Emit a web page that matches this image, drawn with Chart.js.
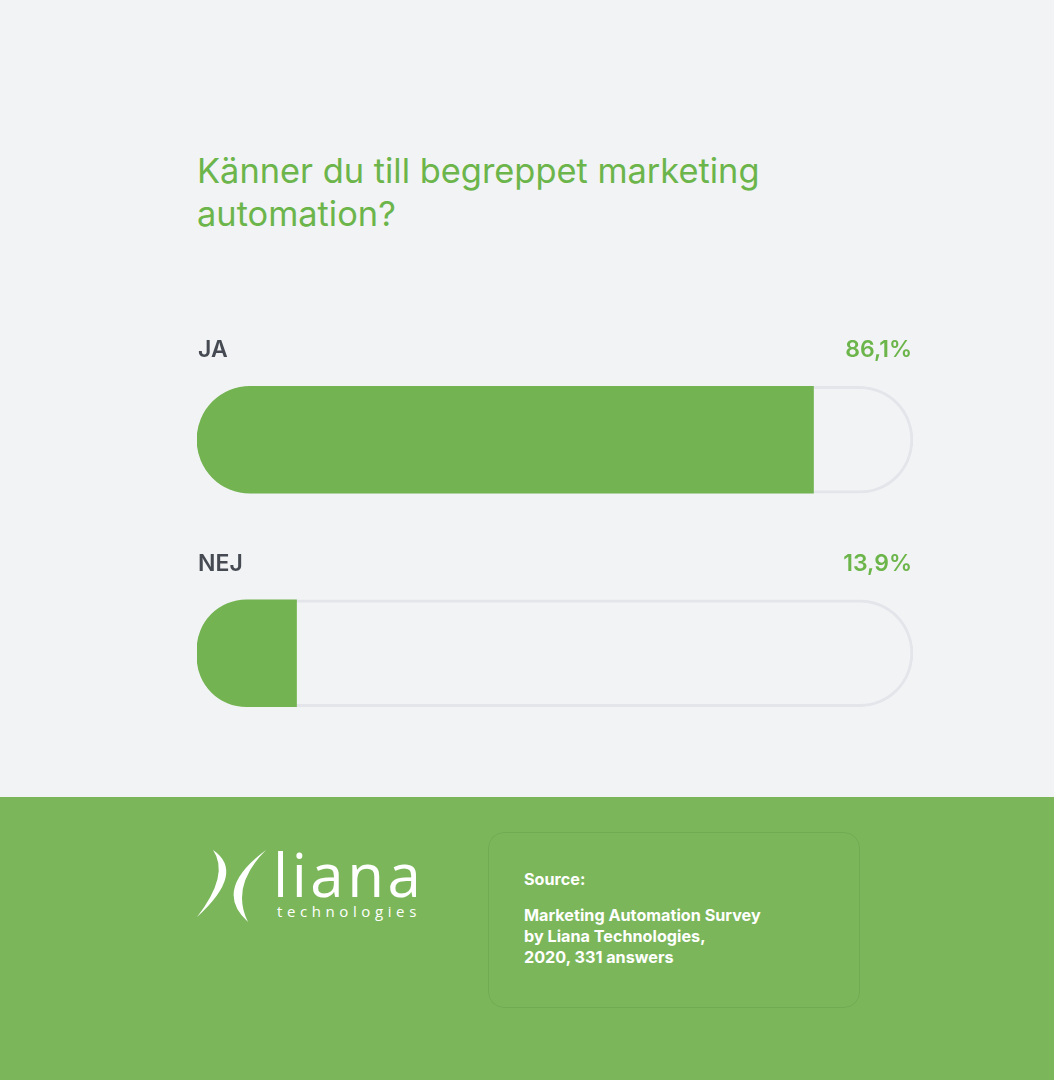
<!DOCTYPE html>
<html>
<head>
<meta charset="utf-8">
<script src="https://cdn.jsdelivr.net/npm/chart.js@4"></script>
<style>
  html, body { margin: 0; padding: 0; }
  body { width: 1054px; height: 1080px; position: relative; background: #f2f3f5; font-family: Inter, Roboto, sans-serif; overflow: hidden; }
  #title { position: absolute; left: 197px; top: 149px; width: 720px; font-size: 34.4px; line-height: 43px; color: #6cb54b; font-weight: 400; }
  #chartBox { position: absolute; left: 197px; top: 333px; width: 716px; height: 427px; }
  #footer { position: absolute; left: 0; top: 797px; width: 1054px; height: 283px; background: #7bb75a; }
  #source { position: absolute; left: 488px; top: 35px; width: 370px; height: 174px; border: 1.5px solid rgba(0,0,0,0.07); border-radius: 16px; color: #fff; font-weight: 700; font-size: 16.2px; }
  #source .h { position: absolute; left: 35px; top: 36px; }
  #source .b { position: absolute; left: 35px; top: 72px; line-height: 21px; }
  #logo { position: absolute; left: 190px; top: 45px; }
</style>
</head>
<body>
<div id="title">Känner du till begreppet marketing automation?</div>
<div id="chartBox"><canvas id="c"></canvas></div>
<div id="footer">
  <svg id="logo" width="240" height="90" viewBox="0 0 240 90">
    <path d="M23 8 Q56 30.5 7 75 Q40 32.5 23 8 Z" fill="#fff"/>
    <path d="M76 8 Q22 48 58 80 Q40 44 76 8 Z" fill="#fff"/>
    <text x="83" y="55" fill="#fff" font-family="'Open Sans', sans-serif" font-weight="400" font-size="60" letter-spacing="3.5">liana</text>
    <text x="87" y="75" fill="#fff" font-family="'Open Sans', sans-serif" font-weight="400" font-size="15" letter-spacing="4.6">technologies</text>
  </svg>
  <div id="source">
    <div class="h">Source:</div>
    <div class="b">Marketing Automation Survey<br>by Liana Technologies,<br>2020, 331 answers</div>
  </div>
</div>
<script>
const categories = ['JA', 'NEJ'];
const percentLabels = ['86,1%', '13,9%'];
const values = [86.1, 13.9];
const trackValues = [100, 100];

const labelPlugin = {
  id: 'barLabels',
  afterDatasetsDraw(chart) {
    const ctx = chart.ctx;
    const meta = chart.getDatasetMeta(1);
    const area = chart.chartArea;
    ctx.save();
    ctx.font = '600 23px Inter, sans-serif';
    ctx.textBaseline = 'middle';
    meta.data.forEach((bar, i) => {
      const y = bar.y - bar.height / 2 - 36;
      ctx.fillStyle = '#464b53';
      ctx.textAlign = 'left';
      ctx.fillText(categories[i], area.left + 1, y);
      ctx.fillStyle = '#6cb54b';
      ctx.textAlign = 'right';
      ctx.fillText(percentLabels[i], area.right - 1, y);
    });
    ctx.restore();
  }
};

new Chart(document.getElementById('c'), {
  type: 'bar',
  data: {
    labels: categories,
    datasets: [{
      data: values,
      backgroundColor: '#73b351',
      borderWidth: 0,
      borderSkipped: false,
      borderRadius: { topLeft: 54, bottomLeft: 54, topRight: 0, bottomRight: 0 },
      barThickness: 107,
      grouped: false,
      order: 0
    }, {
      data: trackValues,
      backgroundColor: '#f2f3f5',
      borderColor: '#e3e5ea',
      borderWidth: 3,
      borderSkipped: false,
      borderRadius: 54,
      barThickness: 107,
      grouped: false,
      order: 1
    }]
  },
  options: {
    indexAxis: 'y',
    responsive: true,
    maintainAspectRatio: false,
    animation: false,
    layout: { padding: 0 },
    plugins: { legend: { display: false }, tooltip: { enabled: false } },
    scales: {
      x: { min: 0, max: 100, display: false },
      y: { display: false }
    }
  },
  plugins: [labelPlugin]
});
</script>
</body>
</html>
